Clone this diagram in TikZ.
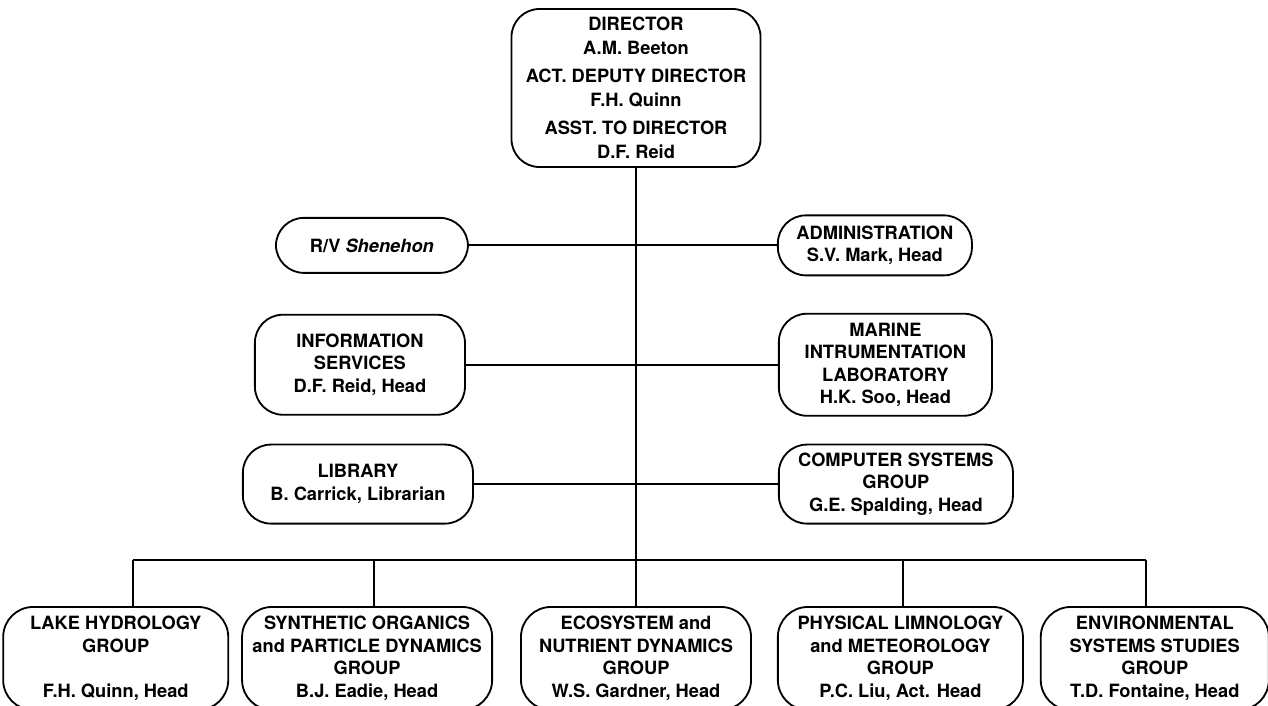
\documentclass[tikz,border=0pt]{standalone}
\usepackage{fontspec}
\setmainfont{TeX Gyre Heros}
\usepackage{tikz}
\usetikzlibrary{positioning}
\tikzset{
  unit/.style={draw, line width=1.3pt, rounded corners=0.7cm, align=center,
    inner sep=2pt, font=\fontsize{13}{16}\selectfont\bfseries},
  group/.style={unit, minimum height=2.575cm, rounded corners=0.75cm},
  link/.style={line width=1.3pt}
}

\begin{document}
\begin{tikzpicture}[x=0.025cm, y=-0.025cm]
        \useasboundingbox (0,0) rectangle (1268,705);
        % director on top
        \node[unit, minimum width=6.225cm, minimum height=3.95cm, font=\fontsize{13}{17}\selectfont\bfseries] (dir) at (636,88)
          {DIRECTOR\\A.M. Beeton\\[3pt]ACT. DEPUTY DIRECTOR\\F.H. Quinn\\[3pt]ASST. TO DIRECTOR\\D.F. Reid};
        
        % staff units, left and right of the line
        \node[unit, minimum width=4.8cm, minimum height=1.375cm, below=1.225cm of dir, xshift=-6.6cm] (rv) {R/V \textit{Shenehon}};
        \node[unit, minimum width=4.85cm, minimum height=1.5cm, right=7.7cm of rv] (adm) {ADMINISTRATION\\S.V. Mark, Head};
        \node[unit, minimum width=5.25cm, minimum height=2.5cm, below=1cm of rv, xshift=-0.3cm] (info) {INFORMATION\\SERVICES\\D.F. Reid, Head};
        \node[unit, minimum width=5.325cm, minimum height=2.55cm, right=7.8cm of info] (mil) {MARINE\\INTRUMENTATION\\LABORATORY\\H.K. Soo, Head};
        \node[unit, minimum width=5.75cm, minimum height=1.975cm, below=0.7cm of info, xshift=-0.05cm] (lib) {LIBRARY\\B. Carrick, Librarian};
        \node[unit, minimum width=5.85cm, minimum height=1.975cm, right=7.6cm of lib] (csg) {COMPUTER SYSTEMS\\GROUP\\G.E. Spalding, Head};
        
        % research groups
        \node[group, minimum width=5.75cm, below=10.95cm of dir] (eco) {ECOSYSTEM and\\NUTRIENT DYNAMICS\\GROUP\\W.S. Gardner, Head};
        \node[group, minimum width=6.25cm, left=0.675cm of eco] (syn) {SYNTHETIC ORGANICS\\and PARTICLE DYNAMICS\\GROUP\\B.J. Eadie, Head};
        \node[group, minimum width=5.625cm, left=0.3cm of syn] (lake) {LAKE HYDROLOGY\\GROUP\\[16pt]F.H. Quinn, Head};
        \node[group, minimum width=6.125cm, right=0.625cm of eco] (phy) {PHYSICAL LIMNOLOGY\\and METEOROLOGY\\GROUP\\P.C. Liu, Act. Head};
        \node[group, minimum width=5.7cm, right=0.4cm of phy] (env) {ENVIRONMENTAL\\SYSTEMS STUDIES\\GROUP\\T.D. Fontaine, Head};
        
        % edges
        \draw[link] (dir) -- (eco);
        \draw[link] (rv) -- (adm);
        \draw[link] (info) -- (mil);
        \draw[link] (lib) -- (csg);
        \path (lake.north) ++(0.44cm,1.15cm) coordinate (blake);
        \path (syn.north) ++(0.175cm,1.15cm) coordinate (bsyn);
        \path (phy.north) ++(0.06cm,1.15cm) coordinate (bphy);
        \path (env.north) ++(-0.225cm,1.15cm) coordinate (benv);
        \draw[link] (blake) -- (benv);
        \draw[link] (blake) -- (blake |- lake.north);
        \draw[link] (bsyn) -- (bsyn |- syn.north);
        \draw[link] (bphy) -- (bphy |- phy.north);
        \draw[link] (benv) -- (benv |- env.north);
   \end{tikzpicture}
\end{document}
